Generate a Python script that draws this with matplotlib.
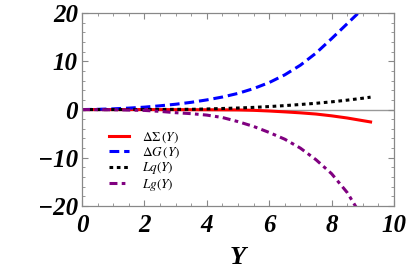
import numpy as np
import matplotlib
matplotlib.use('Agg')
import matplotlib.pyplot as plt
from matplotlib.ticker import MultipleLocator

plt.rcParams['mathtext.fontset'] = 'stix'
plt.rcParams['font.family'] = ['Liberation Serif', 'DejaVu Serif']

# values
y_grid = [0, 0.5, 1, 1.5, 2, 2.5, 3, 3.5, 4, 4.5, 5, 5.5, 6, 6.5, 7, 7.5, 8, 8.5, 9, 9.25]
delta_sigma = [0, 0, 0, 0, 0, -0.01, -0.02, -0.03, -0.04, -0.06, -0.08, -0.16, -0.3, -0.48,
               -0.68, -0.93, -1.3, -1.75, -2.3, -2.57]
delta_g = [0, 0.05, 0.15, 0.3, 0.5, 0.78, 1.1, 1.5, 2.0, 2.6, 3.35, 4.35, 5.6, 7.2,
           9.2, 11.7, 14.7, 17.8, 20.9, 23.0]
lq = [0, 0, 0, 0.01, 0.02, 0.03, 0.04, 0.05, 0.12, 0.22, 0.32, 0.45, 0.62, 0.82,
      1.05, 1.3, 1.6, 1.95, 2.35, 2.57]
lg = [0, -0.02, -0.05, -0.1, -0.18, -0.38, -0.65, -0.85, -1.15, -1.65, -2.5, -3.5, -4.75, -6.15,
      -8.0, -10.4, -13.3, -17.2, -22.5, -25.5]

labels = [r'$\Delta\Sigma\,(Y)$', r'$\Delta G\,(Y)$', r'$Lq(Y)$', r'$Lg(Y)$']

fig = plt.figure(figsize=(4.07, 2.73), dpi=100)
ax = fig.add_axes([0.2015, 0.2454, 0.7665, 0.7066])

ax.axhline(0, color='#999999', lw=1, zorder=1)
ax.plot(y_grid, delta_sigma, color='red', lw=2.2, label=labels[0])
ax.plot(y_grid, delta_g, color='blue', lw=2.2, dashes=(3.2, 1.6), label=labels[1])
ax.plot(y_grid, lq, color='black', lw=2.2, dashes=(1.2, 1.2), label=labels[2])
ax.plot(y_grid, lg, color='purple', lw=2.2, dashes=(2.6, 1.4, 1.2, 1.4), label=labels[3])

ax.set_xlim(0, 10)
ax.set_ylim(-20, 20)
ax.xaxis.set_major_locator(MultipleLocator(2))
ax.xaxis.set_minor_locator(MultipleLocator(0.5))
ax.yaxis.set_major_locator(MultipleLocator(10))
ax.yaxis.set_minor_locator(MultipleLocator(2))
ax.tick_params(which='both', direction='in', top=True, right=True, color='#888888')
ax.tick_params(which='major', length=4, width=0.8)
ax.tick_params(axis='x', which='major', pad=6)
ax.tick_params(axis='y', which='major', pad=3)
ax.tick_params(which='minor', length=2.5, width=0.6)
for s in ax.spines.values():
    s.set_color('#888888')
    s.set_linewidth(0.9)

for t in ax.get_xticklabels() + ax.get_yticklabels():
    t.set_fontsize(18)
    t.set_fontweight('bold')
    t.set_fontstyle('italic')

ax.set_xlabel('Y', fontsize=19, fontweight='bold', fontstyle='italic', labelpad=6)

ax.legend(loc='upper left', bbox_to_anchor=(0.07, 0.418), frameon=False, fontsize=9.5,
          handlelength=1.5, handletextpad=1.0, labelspacing=0.02, borderaxespad=0)

fig.savefig('out.png', dpi=100)
